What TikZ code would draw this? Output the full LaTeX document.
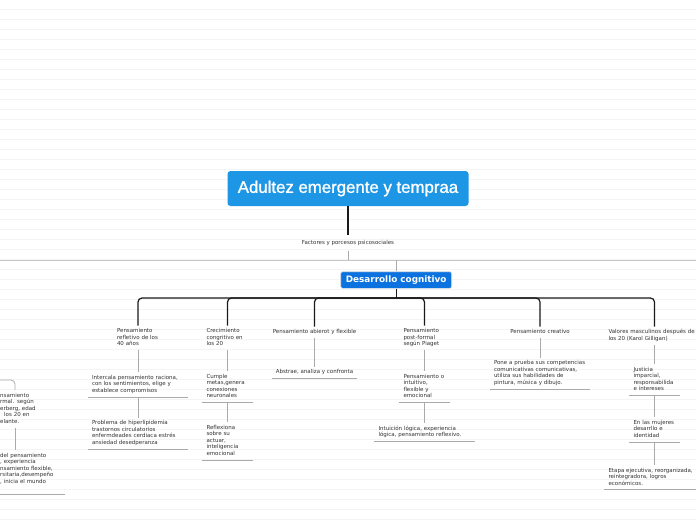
\documentclass[tikz,border=0pt]{standalone}
\usepackage{fontspec}
\setmainfont{DejaVu Sans}
\newfontfamily\titlefont{Liberation Sans}[FakeBold=1.2]
\definecolor{titleblue}{RGB}{30,150,230}
\definecolor{mainblue}{RGB}{12,114,224}
\definecolor{ink}{RGB}{51,51,51}
\definecolor{rule}{RGB}{244,244,244}
\definecolor{stem}{RGB}{170,170,170}

\begin{document}
\begin{tikzpicture}[x=1pt,y=-1pt]

\def\smallwidth{42pt}
\def\widewidth{92pt}

\tikzset{line/.style={draw,line width=1.2pt,color=black!90}}
\tikzset{subline/.style={draw,line width=0.8pt,color=stem}}
\tikzset{topic/.style={inner xsep=4pt,inner ysep=2.5pt,text=ink,anchor=north,align=left,font=\fontsize{5.5}{6.5}\selectfont,execute at begin node=\strut,execute at end node=\strut}}
\tikzset{small/.style={topic,text width=\smallwidth}}
\tikzset{wide/.style={topic,text width=\widewidth}}
\tikzset{titlebox/.style={fill=titleblue,rounded corners=3pt,minimum width=241pt,minimum height=35pt,inner sep=0pt,text=white,font=\titlefont\fontsize{16.8}{20}\selectfont}}
\tikzset{mainbox/.style={fill=mainblue,draw=black!10,line width=0.6pt,rounded corners=2pt,minimum width=111pt,minimum height=16.6pt,inner sep=0pt,text=white,font=\bfseries\fontsize{8.85}{10}\selectfont}}

\useasboundingbox (0,0) rectangle (696,520);
\clip (0,0) rectangle (696,520);
\fill[white] (0,0) rectangle (696,520);

% ruled background
\foreach \k in {1,...,52}
  \path[draw=rule,line width=0.8pt] (0,10*\k-0.5) -- (696,10*\k-0.5);

\node[titlebox] (title) at (348,188.5) {Adultez emergente y tempraa};
\node[topic,inner ysep=4.5pt] (fac) at (348,234.8) {Factores y porcesos psicosociales};
\node[mainbox] (dc) at (396.2,280) {Desarrollo cognitivo};

\coordinate (fh) at (348,260);
\coordinate (westend) at (-5,260);
\coordinate (eastend) at (701,260);
\coordinate (dh) at (396.2,298);
\coordinate (lw) at (-5,380);
\coordinate (lh) at (15,380);

% first column
\node[small] (n1) at (138,325.5) {Pensamiento\\refletivo de los\\40 años};
\node[wide] (n1a) at (138,372) {Intercala pensamiento raciona,\\con los sentimientos, elige y\\establece compromisos};
\node[wide] (n1b) at (138,417.5) {Problema de hiperlipidemia\\trastornos circulatorios\\enfermdeades cerdiaca estrés\\ansiedad desedperanza};

% second column
\node[small] (n2) at (227.5,325.5) {Crecimiento\\congritivo en\\los 20};
\node[small] (n2a) at (227.5,370.8) {Cumple\\metas,genera\\conexiones\\neuronales};
\node[small] (n2b) at (227.5,422) {Reflexiona\\sobre su\\actuar,\\inteligencia\\emocional};

% third column
\node[topic] (n3) at (314.5,326.5) {Pensamiento abierot y flexible};
\node[topic] (n3a) at (314.5,366.5) {Abstrae, analiza y confronta};

% fourth column
\node[small] (n4) at (424.5,325.5) {Pensamiento\\post-formal\\según Piaget};
\node[small] (n4a) at (424.5,370.8) {Pensamiento o\\intuitivo,\\flexible y\\emocional};
\node[wide] (n4b) at (424.5,423) {Intuición lógica, experiencia\\lógica, pensamiento reflexivo.};

% fifth column
\node[topic] (n5) at (540,326.5) {Pensamiento creativo};
\node[wide] (n5a) at (540,357.5) {Pone a prueba sus competencias\\comunicativas comunicativas,\\utiliza sus habilidades de\\pintura, música y dibujo.};

% sixth column
\node[wide] (n6) at (654.5,326.5) {Valores masculinos después de\\los 20 (Karol Gilligan)};
\node[small] (n6a) at (654.5,363.8) {Justicia\\imparcial,\\responsabilida\\e intereses};
\node[small] (n6b) at (654.5,417) {En las mujeres\\desarrllo e\\identidad};
\node[wide] (n6c) at (654.5,464.8) {Etapa ejecutiva, reorganizada,\\reintegradora, logros\\económicos.};

% left edge, cut off
\node[topic,anchor=north west,inner xsep=0pt,text width=60pt] (l1) at (0,389.8) {nsamiento\\rmal. según\\erberg, edad\\\hspace*{4pt}los 20 en\\elante.};
\node[topic,anchor=north west,inner xsep=0pt,text width=65pt] (l2) at (0,449.8) {del pensamiento\\, experiencia\\nsamiento flexible,\\rsitaria,desempeño\\, inicia el mundo\\\mbox{}};

\path[line] (title.south) -- (fac.north);
\path[subline] (fac.south) -- (fh);
\path[subline,color=black!22] (westend) -- (eastend);
\path[subline] (dc.north |- fh) -- (dc.north);
\path[line] (dc.south) -- (dh);

\foreach \n in {n1,n2,n3,n4,n5,n6}
  \path[line,rounded corners=4pt] (dh) -| (\n.north);

\foreach \a/\b in {n1/n1a,n1a/n1b,n2/n2a,n2a/n2b,n3/n3a,n4/n4a,n4a/n4b,n5/n5a,n6/n6a,n6a/n6b,n6b/n6c}
  \path[subline] (\a.south) -- (\b.north);

\path[subline,rounded corners=4pt] (lw) -| (l1.north -| lh);
\path[subline] (l1.south -| lh) -- (l2.north -| lh);

% underlines
\foreach \n in {n1a,n1b,n2a,n2b,n3a,n4a,n4b,n5a,n6a,n6b,n6c,l2}
  \path[subline] (\n.south west) -- (\n.south east);

\end{tikzpicture}
\end{document}
